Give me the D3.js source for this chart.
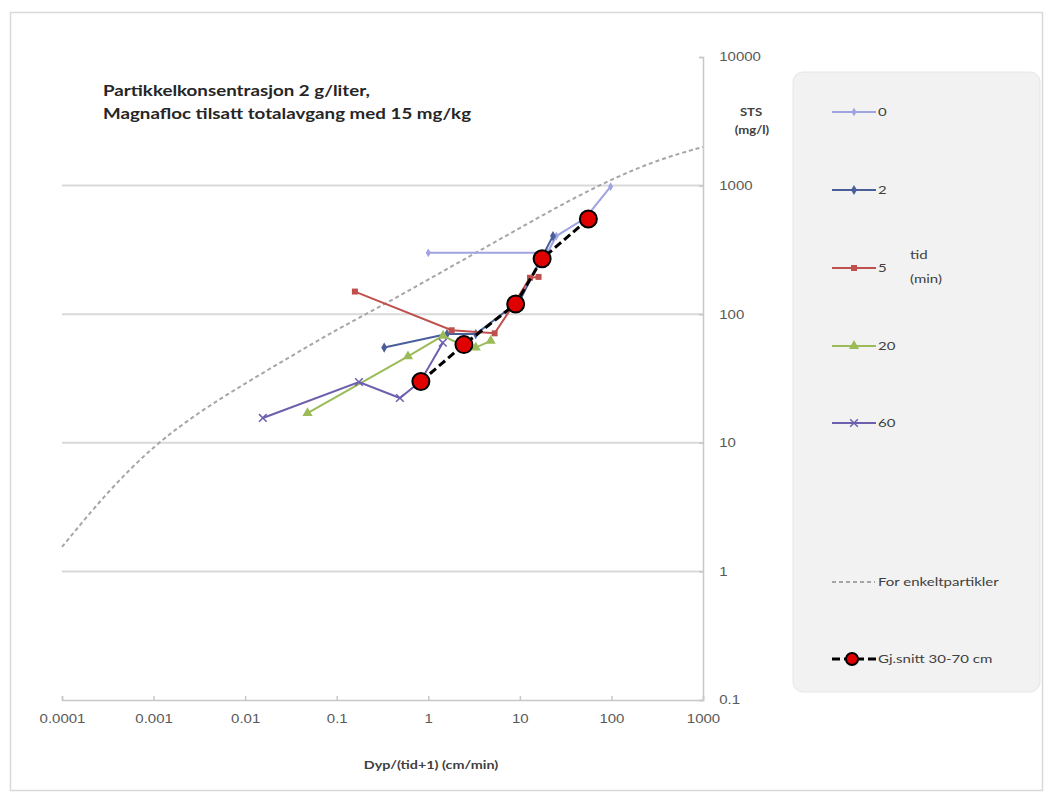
<!DOCTYPE html>
<html>
<head>
<meta charset="utf-8">
<script src="https://cdn.jsdelivr.net/npm/d3@7"></script>
<style>
  body { margin: 0; background: #fff; }
  svg { display: block; font-family: Lato, "Open Sans", "Liberation Sans", sans-serif; }
</style>
</head>
<body>
<svg id="chart" width="1051" height="797"></svg>
<script>
// Settling measurements: STS (mg/l) against depth/(time+1) (cm/min)
const xTicks = [0.0001, 0.001, 0.01, 0.1, 1, 10, 100, 1000];
const xTickLabels = ["0.0001", "0.001", "0.01", "0.1", "1", "10", "100", "1000"];
const yTicks = [0.1, 1, 10, 100, 1000, 10000];
const yTickLabels = ["0.1", "1", "10", "100", "1000", "10000"];

// time series (tid, minutes)
const seriesNames = ["0", "2", "5", "20", "60"];
const t0x = [1, 20, 25, 52, 98];
const t0y = [300, 300, 405, 560, 980];
const t2x = [0.33, 1.6, 3.3, 10, 16.7, 23];
const t2y = [55, 70, 70, 128, 262, 405];
const t5x = [0.158, 1.8, 5.3, 8.3, 12.9, 16];
const t5y = [150, 75, 71, 115, 192, 195];
const t20x = [0.048, 0.6, 1.45, 2.5, 3.3, 4.8];
const t20y = [17, 47, 68, 56, 55, 62];
const t60x = [0.0156, 0.175, 0.49, 0.82, 1.44];
const t60y = [15.6, 29.7, 22.3, 30, 60];

// single-particle reference curve
const refX = [0.0001, 0.000316, 0.001, 0.00316, 0.01, 0.0316, 0.1, 0.316, 1, 3.16, 10, 31.6, 100, 316, 1000];
const refY = [1.55, 4.2, 9.5, 17.4, 29, 47, 76, 117, 186, 295, 468, 741, 1120, 1585, 2000];

// mean of 30-70 cm
const meanX = [56, 17.5, 9, 2.45, 0.83];
const meanY = [550, 270, 120, 58, 30];

const svg = d3.select("#chart");
const SX = 1.25; // horizontal text stretch

function label(parent, x, y, str, size, opts = {}) {
  return parent.append("text")
    .attr("transform", `translate(${x},${y}) scale(${SX},1)`)
    .attr("text-anchor", opts.anchor || "start")
    .attr("font-size", size)
    .attr("font-weight", opts.bold ? "bold" : "normal")
    .attr("fill", opts.fill || "#404040")
    .text(str);
}

// outer frame
svg.append("rect").attr("x", 10.5).attr("y", 12.5).attr("width", 1032).attr("height", 778)
  .attr("fill", "#fff").attr("stroke", "#d9d9d9").attr("stroke-width", 1.5);

const x = d3.scaleLog().domain([0.0001, 1000]).range([62, 703]);
const y = d3.scaleLog().domain([0.1, 10000]).range([700, 57]);

// gridlines
svg.append("g").selectAll("line").data(yTicks.filter(v => v > 0.1 && v < 10000)).join("line")
  .attr("x1", 62).attr("x2", 703)
  .attr("y1", d => y(d)).attr("y2", d => y(d))
  .attr("stroke", "#d9d9d9").attr("stroke-width", 2);

// x axis
const xAxis = d3.axisBottom(x).tickValues(xTicks).tickFormat((d, i) => xTickLabels[i]).tickSize(-4).tickPadding(14);
const gx = svg.append("g").attr("transform", `translate(0,${y(0.1)})`).call(xAxis);
gx.select(".domain").attr("stroke", "#c8c8c8").attr("stroke-width", 1.5);
gx.selectAll(".tick line").attr("stroke", "#c8c8c8").attr("stroke-width", 1.5);
gx.selectAll("text").attr("fill", "#595959").attr("font-size", 12).attr("font-family", null)
  .attr("transform", `scale(${SX},1)`);

// y axis on the right
const yAxis = d3.axisRight(y).tickValues(yTicks).tickFormat((d, i) => yTickLabels[i]).tickSize(-4).tickPadding(13);
const gy = svg.append("g").attr("transform", `translate(${x(1000)},0)`).call(yAxis);
gy.select(".domain").attr("stroke", "#c8c8c8").attr("stroke-width", 1.5);
gy.selectAll(".tick line").attr("stroke", "#c8c8c8").attr("stroke-width", 1.5);
gy.selectAll("text").attr("fill", "#595959").attr("font-size", 12).attr("font-family", null)
  .attr("transform", `scale(${SX},1)`);

// axis titles
label(svg, 751, 116, "STS", 10.5, { anchor: "middle", bold: true });
label(svg, 752, 134, "(mg/l)", 10.5, { anchor: "middle", bold: true });
label(svg, 431, 769, "Dyp/(tid+1) (cm/min)", 11.5, { anchor: "middle", bold: true });

// chart title
label(svg, 103, 96, "Partikkelkonsentrasjon  2 g/liter,", 15, { bold: true, fill: "#262626" });
label(svg, 103, 119, "Magnafloc tilsatt totalavgang med 15 mg/kg", 15, { bold: true, fill: "#262626" });

const plot = svg.append("g");
const line = d3.line().x(d => x(d[0])).y(d => y(d[1]));
const zip = (a, b) => a.map((v, i) => [v, b[i]]);

// reference curve
plot.append("path").datum(zip(refX, refY))
  .attr("d", d3.line().x(d => x(d[0])).y(d => y(d[1])).curve(d3.curveBasis))
  .attr("fill", "none").attr("stroke", "#a6a6a6").attr("stroke-width", 2).attr("stroke-dasharray", "4,3");

const colors = ["#9fa3e0", "#4a5f9a", "#c0504d", "#9bbb59", "#6e5fae"];
const seriesX = [t0x, t2x, t5x, t20x, t60x];
const seriesY = [t0y, t2y, t5y, t20y, t60y];

function marker(g, kind, color) {
  if (kind === 0) g.append("path").attr("d", d3.symbol(d3.symbolDiamond, 22)()).attr("fill", color);
  if (kind === 1) g.append("path").attr("d", d3.symbol(d3.symbolDiamond, 30)()).attr("fill", color);
  if (kind === 2) g.append("path").attr("d", d3.symbol(d3.symbolSquare, 36)()).attr("fill", color);
  if (kind === 3) g.append("path").attr("d", d3.symbol(d3.symbolTriangle, 45)()).attr("fill", color);
  if (kind === 4) g.append("path").attr("d", d3.symbol(d3.symbolTimes, 40)()).attr("fill", "none").attr("stroke", color).attr("stroke-width", 1.5);
}

seriesNames.forEach((name, k) => {
  const pts = zip(seriesX[k], seriesY[k]);
  plot.append("path").datum(pts).attr("d", line)
    .attr("fill", "none").attr("stroke", colors[k]).attr("stroke-width", 2);
  pts.forEach(p => {
    const g = plot.append("g").attr("transform", `translate(${x(p[0])},${y(p[1])})`);
    marker(g, k, colors[k]);
  });
});

// mean series
const meanPts = zip(meanX, meanY);
plot.append("path").datum(meanPts).attr("d", line)
  .attr("fill", "none").attr("stroke", "#000").attr("stroke-width", 3).attr("stroke-dasharray", "8,4");
plot.selectAll("circle.mean").data(meanPts).join("circle").attr("class", "mean")
  .attr("cx", d => x(d[0])).attr("cy", d => y(d[1])).attr("r", 8.5)
  .attr("fill", "#e00000").attr("stroke", "#000").attr("stroke-width", 2);

// legend
const lg = svg.append("g");
lg.append("rect").attr("x", 793).attr("y", 72).attr("width", 247).attr("height", 620).attr("rx", 10)
  .attr("fill", "#f2f2f2").attr("stroke", "#e6e6e6");
const legendY = [112, 190, 268, 346, 423];
seriesNames.forEach((name, k) => {
  const yy = legendY[k];
  lg.append("line").attr("x1", 832).attr("x2", 876).attr("y1", yy).attr("y2", yy)
    .attr("stroke", colors[k]).attr("stroke-width", 2);
  const g = lg.append("g").attr("transform", `translate(854,${yy})`);
  marker(g, k, colors[k]);
  label(lg, 878, yy + 4, name, 12);
});
label(lg, 910, 259, "tid", 12);
label(lg, 910, 283, "(min)", 12);
lg.append("line").attr("x1", 832).attr("x2", 875).attr("y1", 582).attr("y2", 582)
  .attr("stroke", "#a6a6a6").attr("stroke-width", 2).attr("stroke-dasharray", "4,3");
label(lg, 878, 586, "For enkeltpartikler", 12);
lg.append("line").attr("x1", 832).attr("x2", 876).attr("y1", 659).attr("y2", 659)
  .attr("stroke", "#000").attr("stroke-width", 3).attr("stroke-dasharray", "8,4");
lg.append("circle").attr("cx", 852).attr("cy", 659).attr("r", 6).attr("fill", "#e00000").attr("stroke", "#000").attr("stroke-width", 2);
label(lg, 878, 663, "Gj.snitt 30-70 cm", 12);
</script>
</body>
</html>
